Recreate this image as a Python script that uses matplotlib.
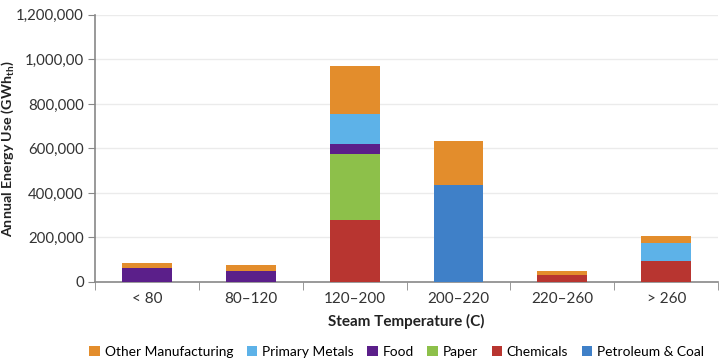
import numpy as np
import matplotlib.pyplot as plt
from matplotlib.patches import Patch

plt.rcParams['font.family'] = ['Lato', 'DejaVu Sans']

# categories and stacked values (GWh_th)
categories = ["< 80", "80\u2013120", "120\u2013200", "200\u2013220", "220\u2013260", "> 260"]
petroleum = [0, 0, 0, 437000, 0, 0]
chemicals = [0, 0, 279000, 0, 33000, 93000]
paper = [0, 0, 296000, 0, 0, 0]
food = [65000, 48000, 44000, 0, 0, 0]
primary_metals = [0, 0, 136000, 0, 0, 81000]
other = [22000, 27000, 217000, 195000, 18000, 34000]

y_ticks = [0, 200000, 400000, 600000, 800000, 1000000, 1200000]
y_tick_labels = ["0", "200,000", "400,000", "600,000", "800,000", "1,000,00", "1,200,000"]

series = [
    ("Petroleum & Coal", petroleum, "#3F80C8"),
    ("Chemicals", chemicals, "#B83530"),
    ("Paper", paper, "#8DC04A"),
    ("Food", food, "#5B1F8A"),
    ("Primary Metals", primary_metals, "#5DB2E8"),
    ("Other Manufacturing", other, "#E38D2C"),
]

fig = plt.figure(figsize=(7.21, 3.62), dpi=100)
ax = fig.add_axes([0.132, 0.221, 0.864, 0.738])

x = np.arange(len(categories))
bottom = np.zeros(len(categories))
for name, vals, col in series:
    vals = np.array(vals, dtype=float)
    ax.bar(x, vals, 0.48, bottom=bottom, color=col, zorder=3)
    bottom += vals

ax.set_xlim(-0.5, len(categories) - 0.5)
ax.set_ylim(0, 1200000)
ax.set_yticks(y_ticks)
ax.set_yticklabels(y_tick_labels, fontsize=10.8, color="#333333")
ax.set_xticks(x)
ax.set_xticklabels(categories, fontsize=11, color="#333333")
ax.tick_params(axis="x", length=0, pad=7)
ax.set_xticks(np.arange(-0.5, len(categories)), minor=True)
ax.tick_params(axis="x", which="minor", length=6, color="#888888")
ax.tick_params(axis="y", length=5, color="#888888", pad=3)
ax.grid(axis="y", color="#ebebeb", linewidth=1, zorder=0)

for s in ["top", "right"]:
    ax.spines[s].set_visible(False)
for s in ["left", "bottom"]:
    ax.spines[s].set_color("#888888")
    ax.spines[s].set_linewidth(1.2)

ax.set_ylabel("Annual Energy Use (GWh$_\\mathregular{th}$)", fontsize=10.3, fontweight="bold",
              color="#222222")
ax.yaxis.set_label_coords(-0.127, 0.5)
ax.set_xlabel("Steam Temperature (C)", fontsize=11, fontweight="bold", color="#222222", labelpad=6)

legend_order = ["Other Manufacturing", "Primary Metals", "Food", "Paper", "Chemicals", "Petroleum & Coal"]
colors = {n: c for n, _, c in series}
handles = [Patch(facecolor=colors[n], label=n) for n in legend_order]
fig.legend(handles=handles, loc="center left", bbox_to_anchor=(0.124, 0.028), ncol=6, frameon=False,
           fontsize=9.9, handlelength=0.75, handleheight=0.75, handletextpad=0.35, columnspacing=1.0,
           borderaxespad=0, borderpad=0)

fig.savefig("out.png", dpi=100)
